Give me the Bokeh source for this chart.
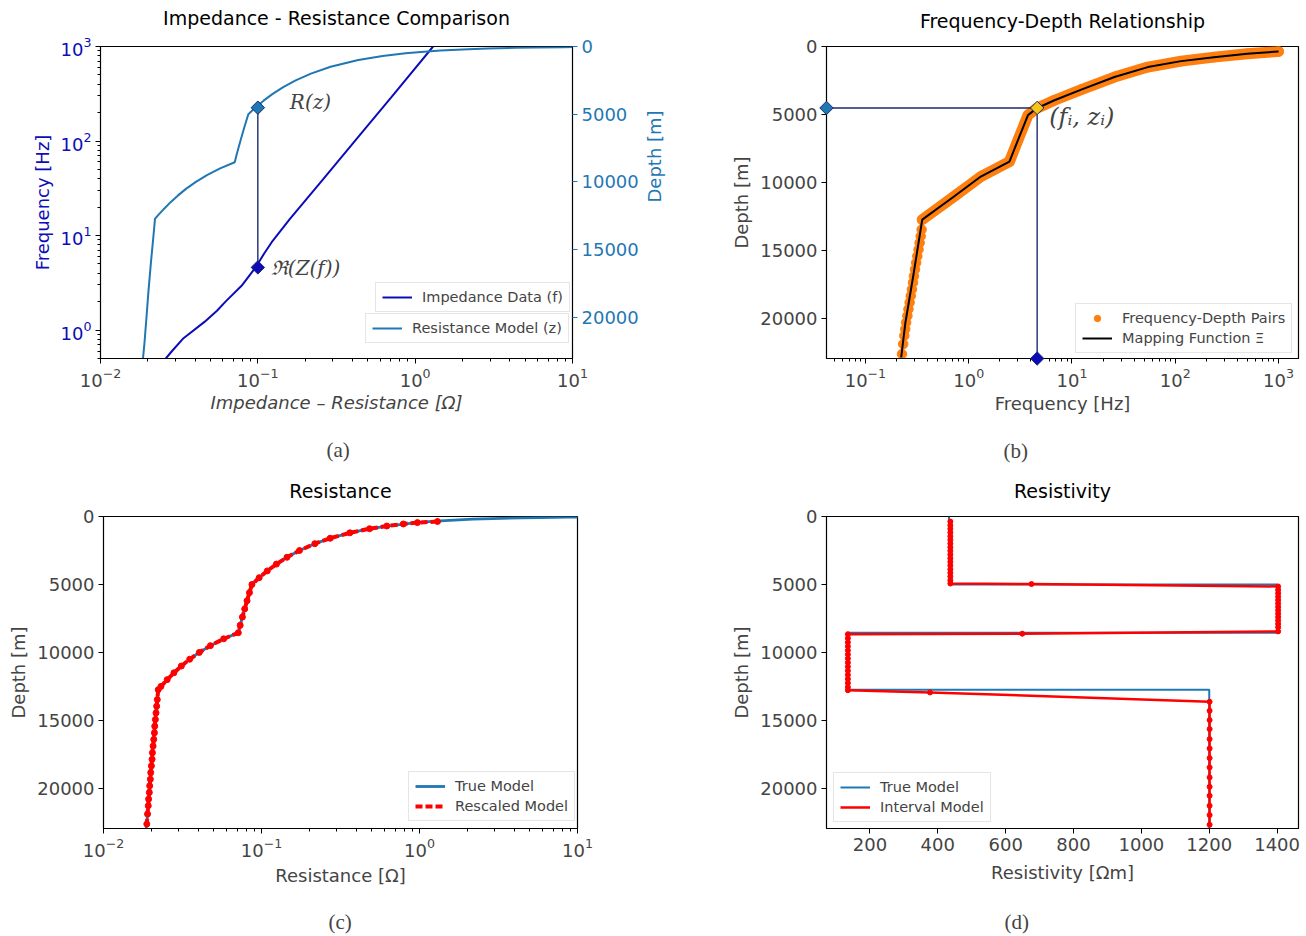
import math
from bokeh.plotting import figure
from bokeh.models import (Range1d, LinearAxis, LinearScale, SingleIntervalTicker, Label, Legend,
                          LegendItem, Title)
from bokeh.layouts import column, row
from bokeh.embed import file_html
from bokeh.resources import INLINE

# ---------------- data ----------------
# (a) impedance data: frequency [Hz] vs Re(Z) [Ohm]
imp_freq = [0.5, 0.6, 0.82, 1.22, 1.6, 2.0, 3.0, 4.7, 6.5, 8.5, 15, 40, 104, 286, 1000]
imp_re = [0.026, 0.0285, 0.0337, 0.0458, 0.055, 0.0623, 0.0797, 0.0976, 0.11, 0.1225,
          0.160, 0.262, 0.422, 0.700, 1.30]

# true resistance model R(z)
res_depth = [20, 50, 75, 100, 150, 200, 300, 400, 500, 700, 1000, 1500, 2000, 2500, 3000,
             3500, 4000, 4500, 5000, 5500, 6000, 6500, 7000, 7500, 8000, 8550, 9000, 9500,
             10000, 10500, 11000, 11500, 12000, 12500, 12740, 14000, 16000, 18000, 20000,
             22000, 23100]
res_value = [21.75, 8.7, 5.8, 4.35, 2.9, 2.175, 1.45, 1.088, 0.87, 0.621, 0.435, 0.29, 0.2175,
             0.174, 0.145, 0.1243, 0.1088, 0.0967, 0.087, 0.0844, 0.0819, 0.0796, 0.0774,
             0.0753, 0.0733, 0.0713, 0.0576, 0.0475, 0.0404, 0.0351, 0.0311, 0.0279, 0.0253,
             0.0231, 0.0222, 0.0217, 0.0209, 0.0202, 0.0196, 0.0190, 0.0186]

# picked pair (f_i, z_i) and its resistance
pick_R = 0.1
pick_freq = 4.6
pick_depth = 4520

# (b) mapping function Xi: frequency -> depth
map_freq = [1000, 497, 237, 114, 54.3, 25.8, 12.3, 6.77, 4.52, 3.75, 3.0, 2.48, 1.31, 0.721,
            0.355, 0.294, 0.244, 0.222]
map_depth = [366, 534, 783, 1076, 1515, 2245, 3170, 3953, 4560, 5050, 6880, 8469, 9567, 11031,
             12737, 16640, 20300, 22860]

# (b) frequency-depth pairs
pair_freq = [1000, 497, 237, 114, 54.3, 25.8, 12.3, 6.77, 4.52, 3.75, 3.0, 2.48, 1.31, 0.721,
             0.355, 0.35, 0.343, 0.335, 0.327, 0.318, 0.31, 0.302, 0.295, 0.289, 0.282, 0.275,
             0.268, 0.261, 0.255, 0.248, 0.243, 0.238, 0.232, 0.226]
pair_depth = [366, 534, 783, 1076, 1515, 2245, 3170, 3953, 4560, 5050, 6880, 8469, 9567, 11031,
              12737, 13469, 13957, 14445, 14933, 15421, 15909, 16397, 16885, 17373, 17861,
              18349, 18837, 19325, 19813, 20301, 20789, 21277, 21887, 22619]

# (c) rescaled resistance model
resc_depth = [370, 450, 550, 700, 900, 1200, 1600, 2000, 2500, 3000, 3500, 4000, 4500, 5000,
              5600, 6200, 6800, 7400, 8000, 8550, 9000, 9500, 10000, 10500, 11000, 11500,
              12000, 12500, 12740, 13469, 13957, 14445, 14933, 15421, 15909, 16397, 16885,
              17373, 17861, 18349, 18837, 19325, 19813, 20301, 20789, 21277, 21887, 22619]
resc_value = [1.30, 0.97, 0.79, 0.621, 0.483, 0.3625, 0.272, 0.2175, 0.174, 0.145, 0.1243,
              0.1088, 0.0967, 0.087, 0.0839, 0.081, 0.0783, 0.0757, 0.0733, 0.0713, 0.0576,
              0.0475, 0.0404, 0.0351, 0.0311, 0.0279, 0.0253, 0.0231, 0.0222, 0.0219, 0.0217,
              0.0215, 0.0213, 0.0211, 0.0210, 0.0208, 0.0206, 0.0204, 0.0203, 0.0201, 0.0199,
              0.0198, 0.0196, 0.0195, 0.0193, 0.0192, 0.0190, 0.0188]

# (d) resistivity models
true_rho = [433, 433, 1400, 1400, 135, 135, 1200, 1200]
true_depth = [0, 5000, 5000, 8550, 8550, 12740, 12740, 23100]

int_rho = [437, 437, 437, 437, 437, 437, 437, 437, 437, 437, 437, 437, 437, 437, 437, 437, 437,
           437, 676, 1403, 1403, 1403, 1403, 1403, 1403, 1403, 1403, 1403, 1403, 1403, 1403,
           1403, 1403, 649, 135, 135, 135, 135, 135, 135, 135, 135, 135, 135, 135, 135, 135,
           135, 135, 377, 1201, 1201, 1201, 1201, 1201, 1201, 1201, 1201, 1201, 1201, 1201,
           1201, 1201, 1201]
int_depth = [370, 640, 910, 1180, 1450, 1720, 1990, 2260, 2530, 2800, 3070, 3340, 3610, 3880,
             4150, 4420, 4690, 4930, 4970, 5145, 5400, 5650, 5900, 6150, 6400, 6650, 6900, 7150,
             7400, 7650, 7900, 8150, 8450, 8622, 8660, 8950, 9250, 9550, 9850, 10150, 10450,
             10750, 11050, 11350, 11650, 11950, 12250, 12550, 12780, 12940, 13627, 14289,
             14975, 15637, 16373, 17059, 17770, 18456, 19191, 19877, 20539, 21275, 21961,
             22672]

# axis limits
a_freq_lim = (0.5, 1000)
a_depth_max = 23050
b_freq_lim = (0.042, 1560)
depth_max = 22950
r_lim = (0.01, 10)
rho_lim = (72, 1463)

# ---------------- style ----------------
FONT = "DejaVu Sans"
C_BLUE = "#1f77b4"
C_ORANGE = "#ff7f0e"
IMP_BLUE = "#0c0cb8"
NAVY = "#1c2a6e"
GOLD = "#f5c518"


def spacer(p, side, h):
    # an empty, tiny title used only to push the next panel item away from the frame
    p.add_layout(Title(text=" ", text_font_size="2px", standoff=max(h - 4, 0)), side)


def style(p, title_gap):
    p.grid.visible = False
    p.outline_line_color = "black"
    p.outline_line_width = 1.2
    p.background_fill_color = "white"
    p.border_fill_color = "white"
    p.title.align = "center"
    p.title.text_font = FONT
    p.title.text_font_size = "19px"
    p.title.text_font_style = "normal"
    p.title.text_color = "black"
    p.title.standoff = 0
    spacer(p, "above", title_gap)
    for ax in p.axis:
        ax.major_label_text_font = FONT
        ax.major_label_text_font_size = "18px"
        ax.axis_label_text_font = FONT
        ax.axis_label_text_font_size = "18px"
        ax.axis_label_text_font_style = "normal"
        ax.major_tick_out = 5
        ax.major_tick_in = 0
        ax.minor_tick_out = 3
        ax.minor_tick_in = 0
        ax.major_label_standoff = 4
        ax.axis_label_standoff = 5
        ax.axis_line_color = "black"


def caption(p, s, offset, gap):
    spacer(p, "below", gap)
    p.add_layout(Title(text=s, align="left", offset=offset, standoff=0,
                       text_font="Liberation Serif", text_font_size="21px",
                       text_font_style="normal"), "below")


def legend(p, items, loc):
    lg = Legend(items=items, location=loc, label_text_font=FONT, label_text_font_size="14.5px",
                glyph_width=30, glyph_height=16, label_standoff=10, padding=6, spacing=4,
                margin=0, border_line_color="#cccccc", border_line_width=1,
                background_fill_alpha=0.85)
    p.add_layout(lg, "center")
    return lg


# ---------------- (a) ----------------
pa = figure(width=678, height=470, x_axis_type="log", y_axis_type="log",
            title="Impedance - Resistance Comparison",
            x_range=Range1d(*r_lim), y_range=Range1d(*a_freq_lim),
            output_backend="svg", toolbar_location=None,
            min_border_left=100, min_border_right=102, min_border_top=44, min_border_bottom=112)
pa.extra_y_ranges = {"depth": Range1d(start=a_depth_max, end=0)}
pa.extra_y_scales = {"depth": LinearScale()}
ax_r = LinearAxis(y_range_name="depth", axis_label="Depth [m]",
                  ticker=SingleIntervalTicker(interval=5000, num_minor_ticks=0))
pa.add_layout(ax_r, "right")
pa.xaxis.axis_label = "Impedance \u2013 Resistance [\u03a9]"
pa.yaxis[0].axis_label = "Frequency [Hz]"
style(pa, 17.5)
pa.xaxis.axis_label_text_font_style = "italic"
pa.xaxis.axis_label_standoff = 2
pa.yaxis[0].axis_label_text_color = IMP_BLUE
pa.yaxis[0].major_label_text_color = IMP_BLUE
ax_r.axis_label_text_color = C_BLUE
ax_r.major_label_text_color = C_BLUE
ax_r.major_tick_line_color = C_BLUE
ax_r.axis_label_standoff = 13
try:
    ax_r.axis_label_orientation = math.pi / 2
except Exception:
    pass

r_imp = pa.line(imp_re, imp_freq, color=IMP_BLUE, line_width=2)
r_res = pa.line(res_value, res_depth, y_range_name="depth", color=C_BLUE, line_width=2)


def freq_to_depth(f):
    lo, hi = math.log10(a_freq_lim[0]), math.log10(a_freq_lim[1])
    return (hi - math.log10(f)) / (hi - lo) * a_depth_max


pa.line([pick_R, pick_R], [pick_depth, freq_to_depth(pick_freq)], y_range_name="depth",
        color=NAVY, line_width=1.4)
pa.scatter([pick_R], [pick_depth], y_range_name="depth", marker="square", angle=math.pi / 4,
           size=9.5, fill_color=C_BLUE, line_color=NAVY, line_width=1, level="overlay")
pa.scatter([pick_R], [pick_freq], marker="square", angle=math.pi / 4,
           size=9.5, fill_color=IMP_BLUE, line_color=NAVY, line_width=1, level="overlay")
pa.add_layout(Label(x=pick_R, y=pick_depth, y_range_name="depth", text="R(z)",
                    x_offset=32, y_offset=6, text_font="DejaVu Serif", text_font_style="italic",
                    text_font_size="20px", text_baseline="middle"))
pa.add_layout(Label(x=pick_R, y=pick_freq, text="\u211c(Z(f))",
                    x_offset=13, y_offset=-1, text_font="DejaVu Serif", text_font_style="italic",
                    text_font_size="20px", text_baseline="middle"))
legend(pa, [LegendItem(label="Impedance Data (f)", renderers=[r_imp])], (275, 46))
legend(pa, [LegendItem(label="Resistance Model (z)", renderers=[r_res])], (265, 15))
caption(pa, "(a)", 226, 19.5)

# ---------------- (b) ----------------
pb = figure(width=628, height=470, x_axis_type="log", title="Frequency-Depth Relationship",
            x_range=Range1d(*b_freq_lim), y_range=Range1d(start=depth_max, end=0),
            output_backend="svg", toolbar_location=None,
            min_border_left=148, min_border_right=8, min_border_top=46, min_border_bottom=111)
pb.yaxis.ticker = SingleIntervalTicker(interval=5000, num_minor_ticks=0)
pb.xaxis.axis_label = "Frequency [Hz]"
pb.yaxis.axis_label = "Depth [m]"
style(pb, 15)
pb.xaxis.axis_label_standoff = 3
pb.line(map_freq[:15], map_depth[:15], color=C_ORANGE, line_width=11, line_cap="round",
        line_join="round")
r_pairs = pb.scatter(pair_freq, pair_depth, size=9.5, color=C_ORANGE)
r_map = pb.line(map_freq, map_depth, color="black", line_width=2)
pb.line([b_freq_lim[0], pick_freq, pick_freq], [pick_depth, pick_depth, depth_max],
        color=NAVY, line_width=1.4)
pb.scatter([b_freq_lim[0]], [pick_depth], marker="square", angle=math.pi / 4, size=9.5,
           fill_color=C_BLUE, line_color=NAVY, level="overlay")
pb.scatter([pick_freq], [pick_depth], marker="square", angle=math.pi / 4, size=9.5,
           fill_color=GOLD, line_color=NAVY, level="overlay")
pb.scatter([pick_freq], [depth_max], marker="square", angle=math.pi / 4, size=9.5,
           fill_color=IMP_BLUE, line_color=NAVY, level="overlay")
pb.add_layout(Label(x=pick_freq, y=pick_depth, text="(f\u1d62, z\u1d62)",
                    x_offset=12, y_offset=-9, text_font="DejaVu Serif", text_font_style="italic",
                    text_font_size="24px", text_baseline="middle"))
legend(pb, [LegendItem(label="Frequency-Depth Pairs", renderers=[r_pairs]),
            LegendItem(label="Mapping Function \u039e", renderers=[r_map])], (249, 5))
caption(pb, "(b)", 177, 19.5)

# ---------------- (c) ----------------
pc = figure(width=670, height=466, x_axis_type="log", title="Resistance",
            x_range=Range1d(*r_lim), y_range=Range1d(start=depth_max, end=0),
            output_backend="svg", toolbar_location=None,
            min_border_left=103, min_border_right=93, min_border_top=46, min_border_bottom=108)
pc.yaxis.ticker = SingleIntervalTicker(interval=5000, num_minor_ticks=0)
pc.xaxis.axis_label = "Resistance [\u03a9]"
pc.yaxis.axis_label = "Depth [m]"
style(pc, 15)
r_true_c = pc.line(res_value, res_depth, color=C_BLUE, line_width=2.8)
r_resc = pc.line(resc_value, resc_depth, color="red", line_width=4, line_dash="7 3")
pc.scatter(resc_value, resc_depth, size=6, color="red")
legend(pc, [LegendItem(label="True Model", renderers=[r_true_c]),
            LegendItem(label="Rescaled Model", renderers=[r_resc])], (305, 7))
caption(pc, "(c)", 225, 18.5)

# ---------------- (d) ----------------
pd_ = figure(width=636, height=466, title="Resistivity",
             x_range=Range1d(*rho_lim), y_range=Range1d(start=depth_max, end=0),
             output_backend="svg", toolbar_location=None,
             min_border_left=156, min_border_right=8, min_border_top=46, min_border_bottom=108)
pd_.yaxis.ticker = SingleIntervalTicker(interval=5000, num_minor_ticks=0)
pd_.xaxis.ticker = SingleIntervalTicker(interval=200, num_minor_ticks=0)
pd_.xaxis.axis_label = "Resistivity [\u03a9m]"
pd_.yaxis.axis_label = "Depth [m]"
style(pd_, 15)
pd_.xaxis.axis_label_standoff = 8
r_true_d = pd_.line(true_rho, true_depth, color=C_BLUE, line_width=2)
r_int = pd_.line(int_rho, int_depth, color="red", line_width=2.5)
pd_.scatter(int_rho, int_depth, size=5, color="red")
legend(pd_, [LegendItem(label="True Model", renderers=[r_true_d]),
             LegendItem(label="Interval Model", renderers=[r_int])], (7, 6))
caption(pd_, "(d)", 178, 22)

layout = column(row(pa, pb), row(pc, pd_))
open("out.html", "w").write(file_html(layout, INLINE))
